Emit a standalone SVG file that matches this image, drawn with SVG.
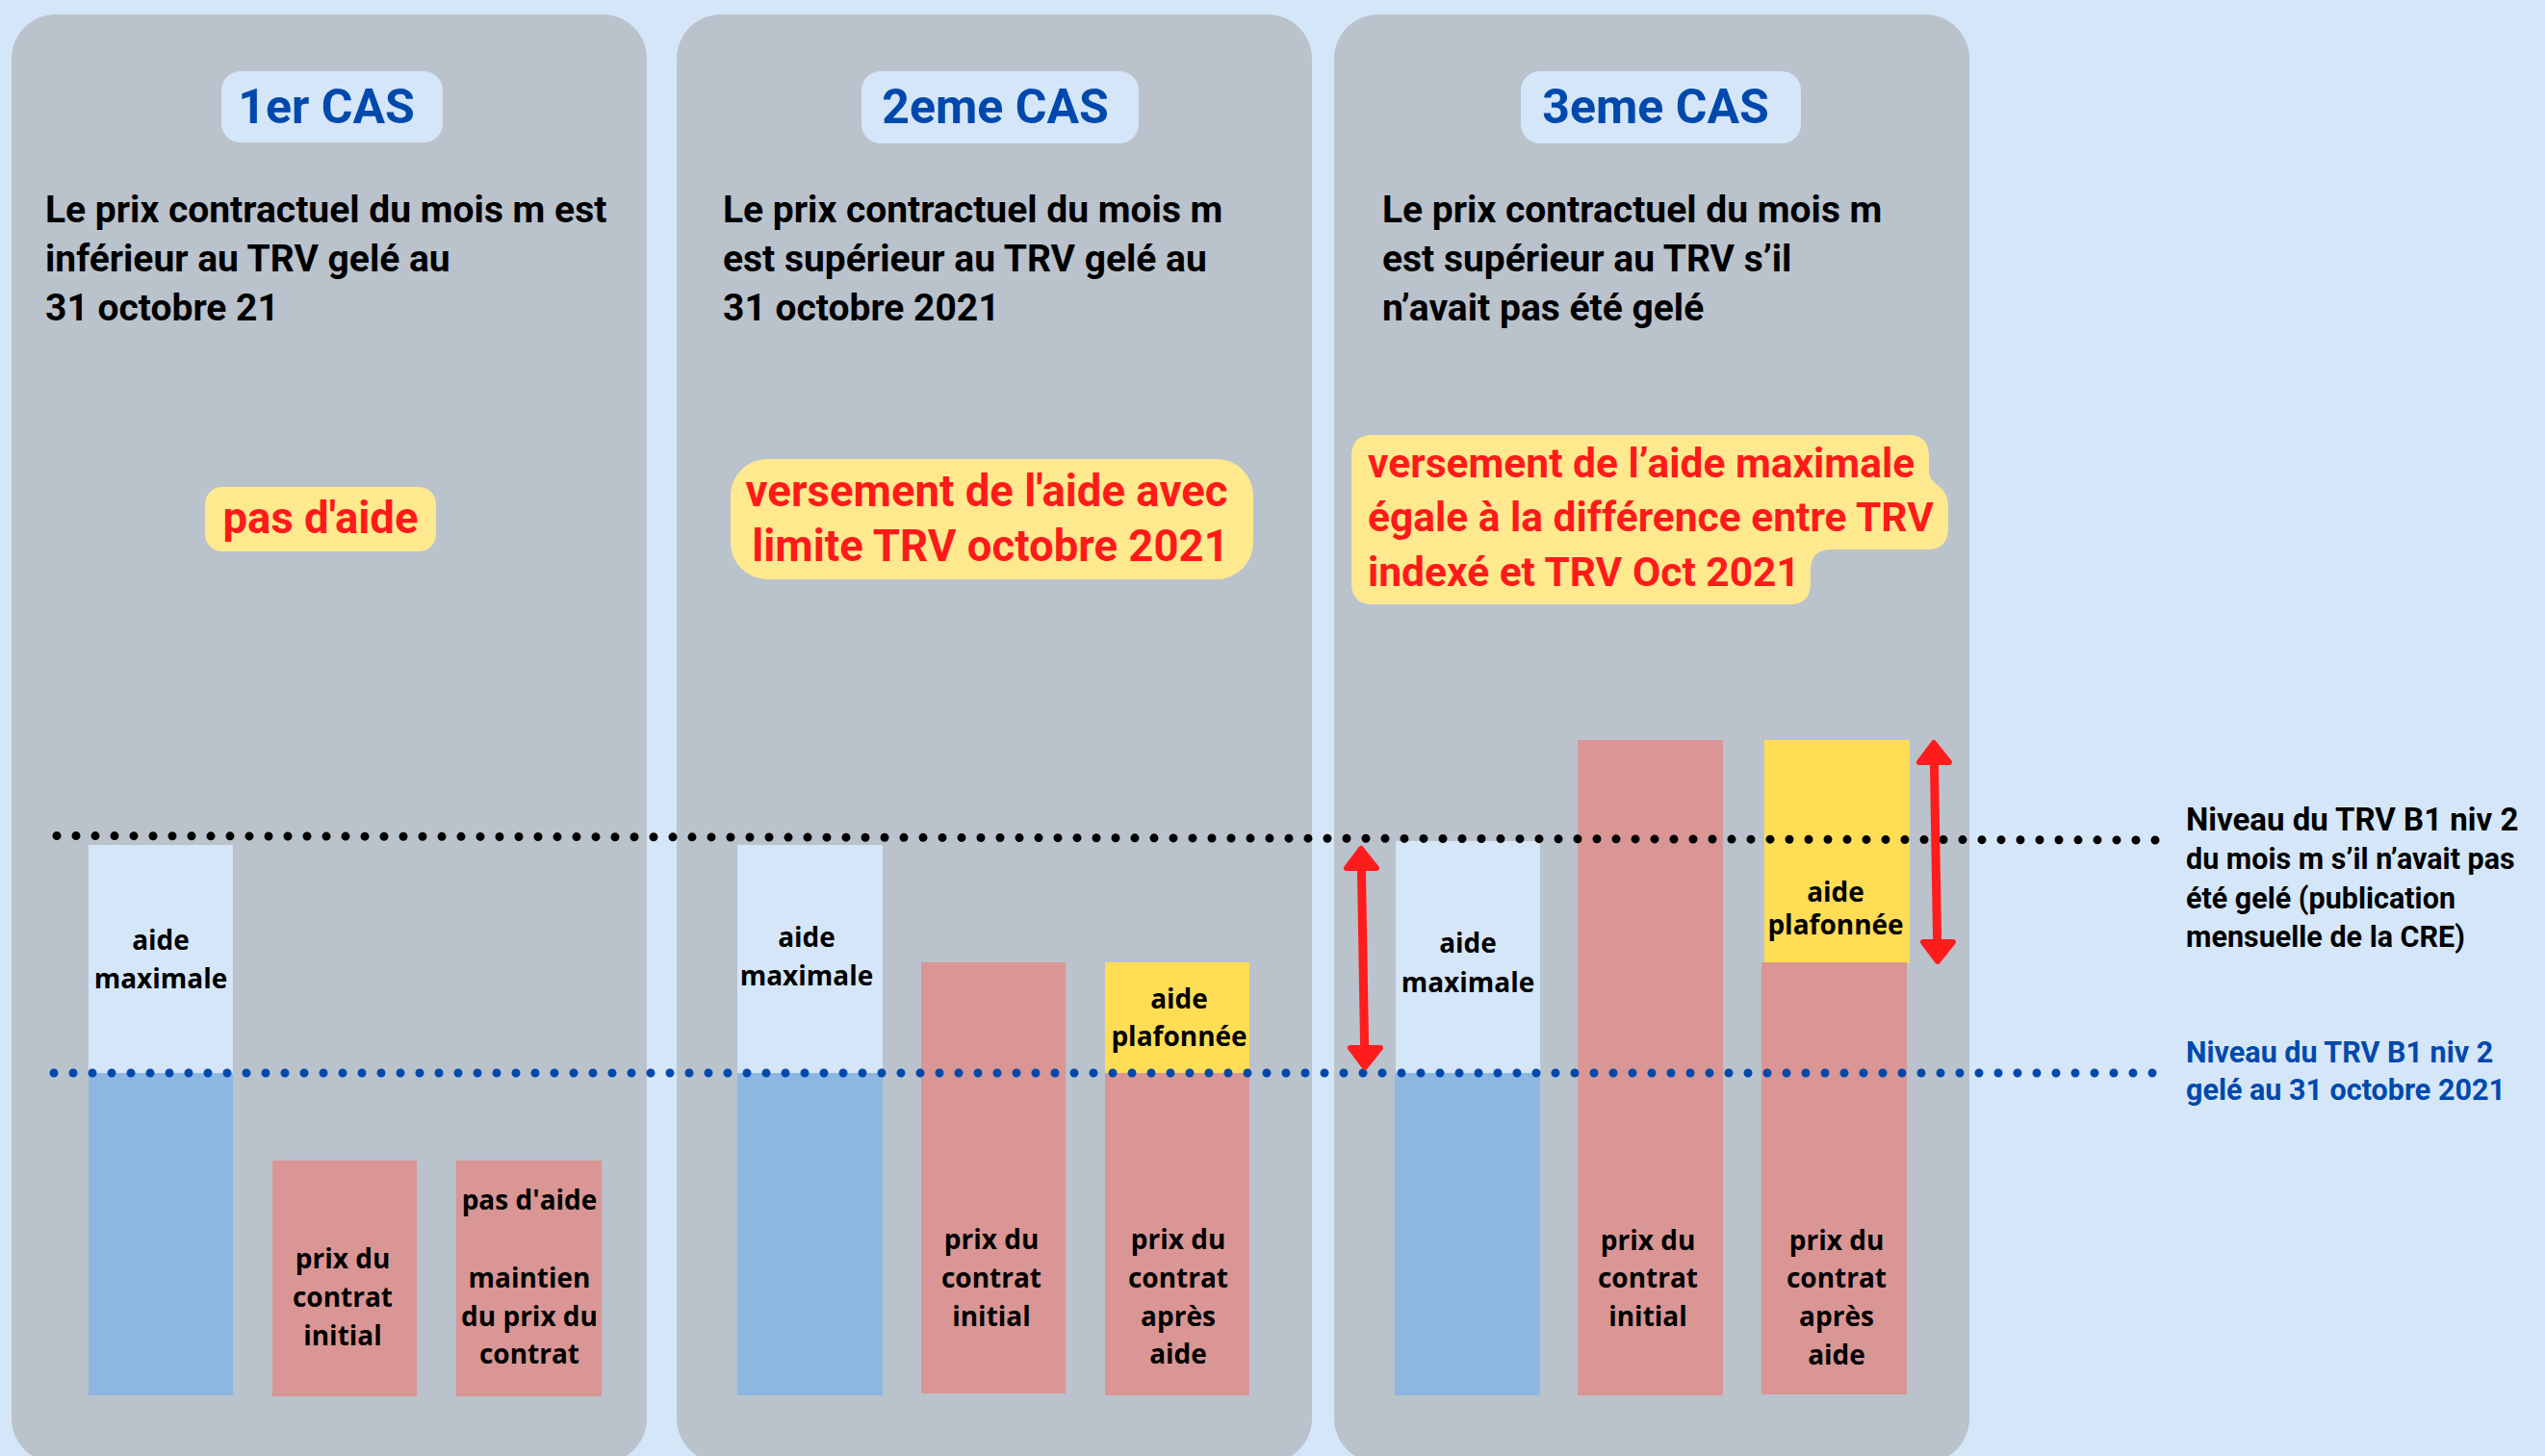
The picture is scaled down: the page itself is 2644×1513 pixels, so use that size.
<svg xmlns="http://www.w3.org/2000/svg" width="2644" height="1513" viewBox="0 0 2644 1513">
<style>
.panel{fill:#BAC2CC}
.tbox{fill:#D5E6F8}
.title{font-family:Roboto,"Liberation Sans",sans-serif;font-weight:700;font-size:50px;fill:#0049AC;text-anchor:middle}
.body{font-family:Roboto,"Liberation Sans",sans-serif;font-weight:700;font-size:39px;fill:#000}
.call{fill:#FFE98F}
.red{font-family:Roboto,"Liberation Sans",sans-serif;font-weight:700;font-size:42.5px;fill:#FF1A1A}
.big{font-size:45.5px}
.lb{fill:#D5E6F8}
.bb{fill:#8DB7E1}
.pk{fill:#D99694}
.yl{fill:#FFDD55}
.lbl{font-family:"Open Sans","Liberation Sans",sans-serif;font-weight:700;font-size:28px;fill:#000;text-anchor:middle}
.leg{font-family:Roboto,"Liberation Sans",sans-serif;font-weight:700;font-size:30.5px}
.leg1{font-size:33px}
.dotk{stroke:#000;stroke-width:9;stroke-linecap:round;stroke-dasharray:0 20;fill:none}
.dotb{stroke:#0049AC;stroke-width:9;stroke-linecap:round;stroke-dasharray:0 20;fill:none}
.shaft{stroke:#FF1C1C;stroke-width:9;fill:none}
.head{fill:#FF1C1C;stroke:#FF1C1C;stroke-width:6;stroke-linejoin:round}
</style>
<rect x="0" y="0" width="2644" height="1513" fill="#D5E6F8"/>

<g id="cas1">
<rect class="panel" x="12" y="15" width="660" height="1505" rx="46"/>
<rect class="tbox" x="230" y="74" width="230" height="74" rx="20"/>
<text class="title" x="339" y="128">1er CAS</text>
<text class="body" x="47" y="231">Le prix contractuel du mois m est</text>
<text class="body" x="47" y="282">inférieur au TRV gelé au</text>
<text class="body" x="47" y="333">31 octobre 21</text>
<rect class="call" x="213" y="506" width="240" height="67" rx="18"/>
<text class="red big" x="333" y="554" text-anchor="middle">pas d'aide</text>
<rect class="lb" x="92" y="878" width="150" height="237"/>
<rect class="bb" x="92" y="1115" width="150" height="335"/>
<text class="lbl" x="167" y="987">aide</text>
<text class="lbl" x="167" y="1027">maximale</text>
<rect class="pk" x="283" y="1206" width="150" height="245"/>
<text class="lbl" x="356" y="1318">prix du</text>
<text class="lbl" x="356" y="1358">contrat</text>
<text class="lbl" x="356" y="1398">initial</text>
<rect class="pk" x="474" y="1206" width="151" height="245"/>
<text class="lbl" x="550" y="1257">pas d'aide</text>
<text class="lbl" x="550" y="1338">maintien</text>
<text class="lbl" x="550" y="1378">du prix du</text>
<text class="lbl" x="550" y="1417">contrat</text>
</g>

<g id="cas2">
<rect class="panel" x="703" y="15" width="660" height="1505" rx="46"/>
<rect class="tbox" x="895" y="74" width="288" height="75" rx="20"/>
<text class="title" x="1034" y="128">2eme CAS</text>
<text class="body" x="751" y="231">Le prix contractuel du mois m</text>
<text class="body" x="751" y="282">est supérieur au TRV gelé au</text>
<text class="body" x="751" y="333">31 octobre 2021</text>
<rect class="call" x="759" y="477" width="543" height="125" rx="38"/>
<text class="red big" x="1025" y="526" text-anchor="middle">versement de l'aide avec</text>
<text class="red big" x="1029" y="583" text-anchor="middle">limite TRV octobre 2021</text>
<rect class="lb" x="766" y="878" width="151" height="237"/>
<rect class="bb" x="766" y="1115" width="151" height="335"/>
<text class="lbl" x="838" y="984">aide</text>
<text class="lbl" x="838" y="1024">maximale</text>
<rect class="pk" x="957" y="1000" width="150" height="448"/>
<text class="lbl" x="1030" y="1298">prix du</text>
<text class="lbl" x="1030" y="1338">contrat</text>
<text class="lbl" x="1030" y="1378">initial</text>
<rect class="yl" x="1148" y="1000" width="150" height="115"/>
<rect class="pk" x="1148" y="1115" width="150" height="335"/>
<text class="lbl" x="1225" y="1048">aide</text>
<text class="lbl" x="1225" y="1087">plafonnée</text>
<text class="lbl" x="1224" y="1298">prix du</text>
<text class="lbl" x="1224" y="1338">contrat</text>
<text class="lbl" x="1224" y="1378">après</text>
<text class="lbl" x="1224" y="1417">aide</text>
</g>

<g id="cas3">
<rect class="panel" x="1386" y="15" width="660" height="1505" rx="46"/>
<rect class="tbox" x="1580" y="74" width="291" height="75" rx="20"/>
<text class="title" x="1720" y="128">3eme CAS</text>
<text class="body" x="1436" y="231">Le prix contractuel du mois m</text>
<text class="body" x="1436" y="282">est supérieur au TRV s’il</text>
<text class="body" x="1436" y="333">n’avait pas été gelé</text>
<path class="call" d="M1426 452 H1982 Q2004 452 2004 474 V488 C2004 508 2024 500 2024 528 V549 Q2024 571 2002 571 H1903 Q1881 571 1881 593 V606 Q1881 628 1859 628 H1426 Q1404 628 1404 606 V474 Q1404 452 1426 452 Z"/>
<text class="red" x="1421" y="496">versement de l’aide maximale</text>
<text class="red" x="1421" y="552">égale à la différence entre TRV</text>
<text class="red" x="1421" y="609">indexé et TRV Oct 2021</text>
<rect class="lb" x="1450" y="874" width="150" height="241"/>
<rect class="bb" x="1449" y="1115" width="151" height="335"/>
<text class="lbl" x="1525" y="990">aide</text>
<text class="lbl" x="1525" y="1031">maximale</text>
<rect class="pk" x="1639" y="769" width="151" height="681"/>
<text class="lbl" x="1712" y="1299">prix du</text>
<text class="lbl" x="1712" y="1338">contrat</text>
<text class="lbl" x="1712" y="1378">initial</text>
<rect class="yl" x="1833" y="769" width="151" height="232"/>
<rect class="pk" x="1830" y="1000" width="151" height="449"/>
<text class="lbl" x="1907" y="937">aide</text>
<text class="lbl" x="1907" y="971">plafonnée</text>
<text class="lbl" x="1908" y="1299">prix du</text>
<text class="lbl" x="1908" y="1338">contrat</text>
<text class="lbl" x="1908" y="1378">après</text>
<text class="lbl" x="1908" y="1418">aide</text>
</g>

<g id="legende">
<text class="leg leg1" x="2271" y="863" fill="#000">Niveau du TRV B1 niv 2</text>
<text class="leg" x="2271" y="903" fill="#000">du mois m s’il n’avait pas</text>
<text class="leg" x="2271" y="944" fill="#000">été gelé (publication</text>
<text class="leg" x="2271" y="984" fill="#000">mensuelle de la CRE)</text>
<text class="leg" x="2271" y="1104" fill="#0049AC">Niveau du TRV B1 niv 2</text>
<text class="leg" x="2271" y="1143" fill="#0049AC">gelé au 31 octobre 2021</text>
</g>

<g id="connecteurs">
<line class="dotk" x1="59" y1="868.5" x2="2240" y2="873"/>
<line class="dotb" x1="56" y1="1115" x2="2237" y2="1115"/>
<line class="shaft" x1="1414.3" y1="895" x2="1417.7" y2="1095"/>
<polygon class="head" points="1414,882 1399,902 1430,902"/>
<polygon class="head" points="1418,1109 1403,1089 1434,1089"/>
<line class="shaft" x1="2009.3" y1="785" x2="2012.7" y2="985"/>
<polygon class="head" points="2009,772 1994,792 2025,792"/>
<polygon class="head" points="2013,999 1998,979 2029,979"/>
</g>
</svg>
